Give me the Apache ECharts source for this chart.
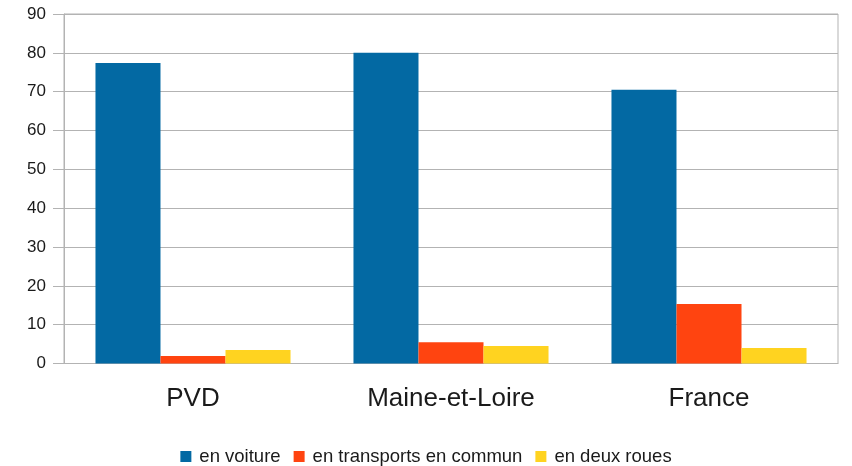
<!DOCTYPE html>
<html>
<head>
<meta charset="utf-8">
<script src="https://cdn.jsdelivr.net/npm/echarts@6/dist/echarts.min.js"></script>
<style>
  html, body { margin: 0; padding: 0; background: #fff; }
  #main { width: 852px; height: 466px; }
</style>
</head>
<body>
<div id="main"></div>
<script>
// catégories et valeurs
const categories = ['PVD', 'Maine-et-Loire', 'France'];
const seriesNames = ['en voiture', 'en transports en commun', 'en deux roues'];
const voiture = [77.4, 80.0, 70.5];
const transports = [1.9, 5.5, 15.3];
const deuxRoues = [3.5, 4.5, 4.0];
const colors = ['#0369a3', '#ff4410', '#ffd320'];

const chart = echarts.init(document.getElementById('main'));
const font = 'Liberation Sans';

const mkSeries = (name, data, i) => ({
    name: name,
    type: 'bar',
    data: data,
    barGap: '0%',
    barCategoryGap: '24.4%',
    itemStyle: { color: colors[i] }
});

chart.setOption({
    animation: false,
    textStyle: { fontFamily: font },
    grid: {
        left: 64, right: 14, top: 14, bottom: 102.5,
        show: true, borderColor: '#b3b3b3', borderWidth: 1
    },
    legend: {
        top: 442,
        left: 'center',
        icon: 'rect',
        itemWidth: 11,
        itemHeight: 11,
        itemGap: 13,
        textStyle: { fontFamily: font, fontSize: 18.5, color: '#1a1a1a', padding: [0, 0, 0, 3] },
        data: seriesNames
    },
    xAxis: {
        type: 'category',
        data: categories,
        axisLine: { lineStyle: { color: '#b3b3b3' } },
        axisTick: { length: 8, lineStyle: { color: '#b3b3b3' } },
        axisLabel: { fontSize: 26, color: '#1a1a1a', margin: 22, fontFamily: font }
    },
    yAxis: {
        type: 'value',
        min: 0,
        max: 90,
        interval: 10,
        axisLine: { show: true, lineStyle: { color: '#b3b3b3' } },
        axisTick: { show: true, length: 11, lineStyle: { color: '#b3b3b3' } },
        splitLine: { lineStyle: { color: '#b3b3b3' } },
        axisLabel: { fontSize: 17, color: '#1a1a1a', margin: 18, fontFamily: font }
    },
    series: [
        mkSeries(seriesNames[0], voiture, 0),
        mkSeries(seriesNames[1], transports, 1),
        mkSeries(seriesNames[2], deuxRoues, 2)
    ]
});
</script>
</body>
</html>
